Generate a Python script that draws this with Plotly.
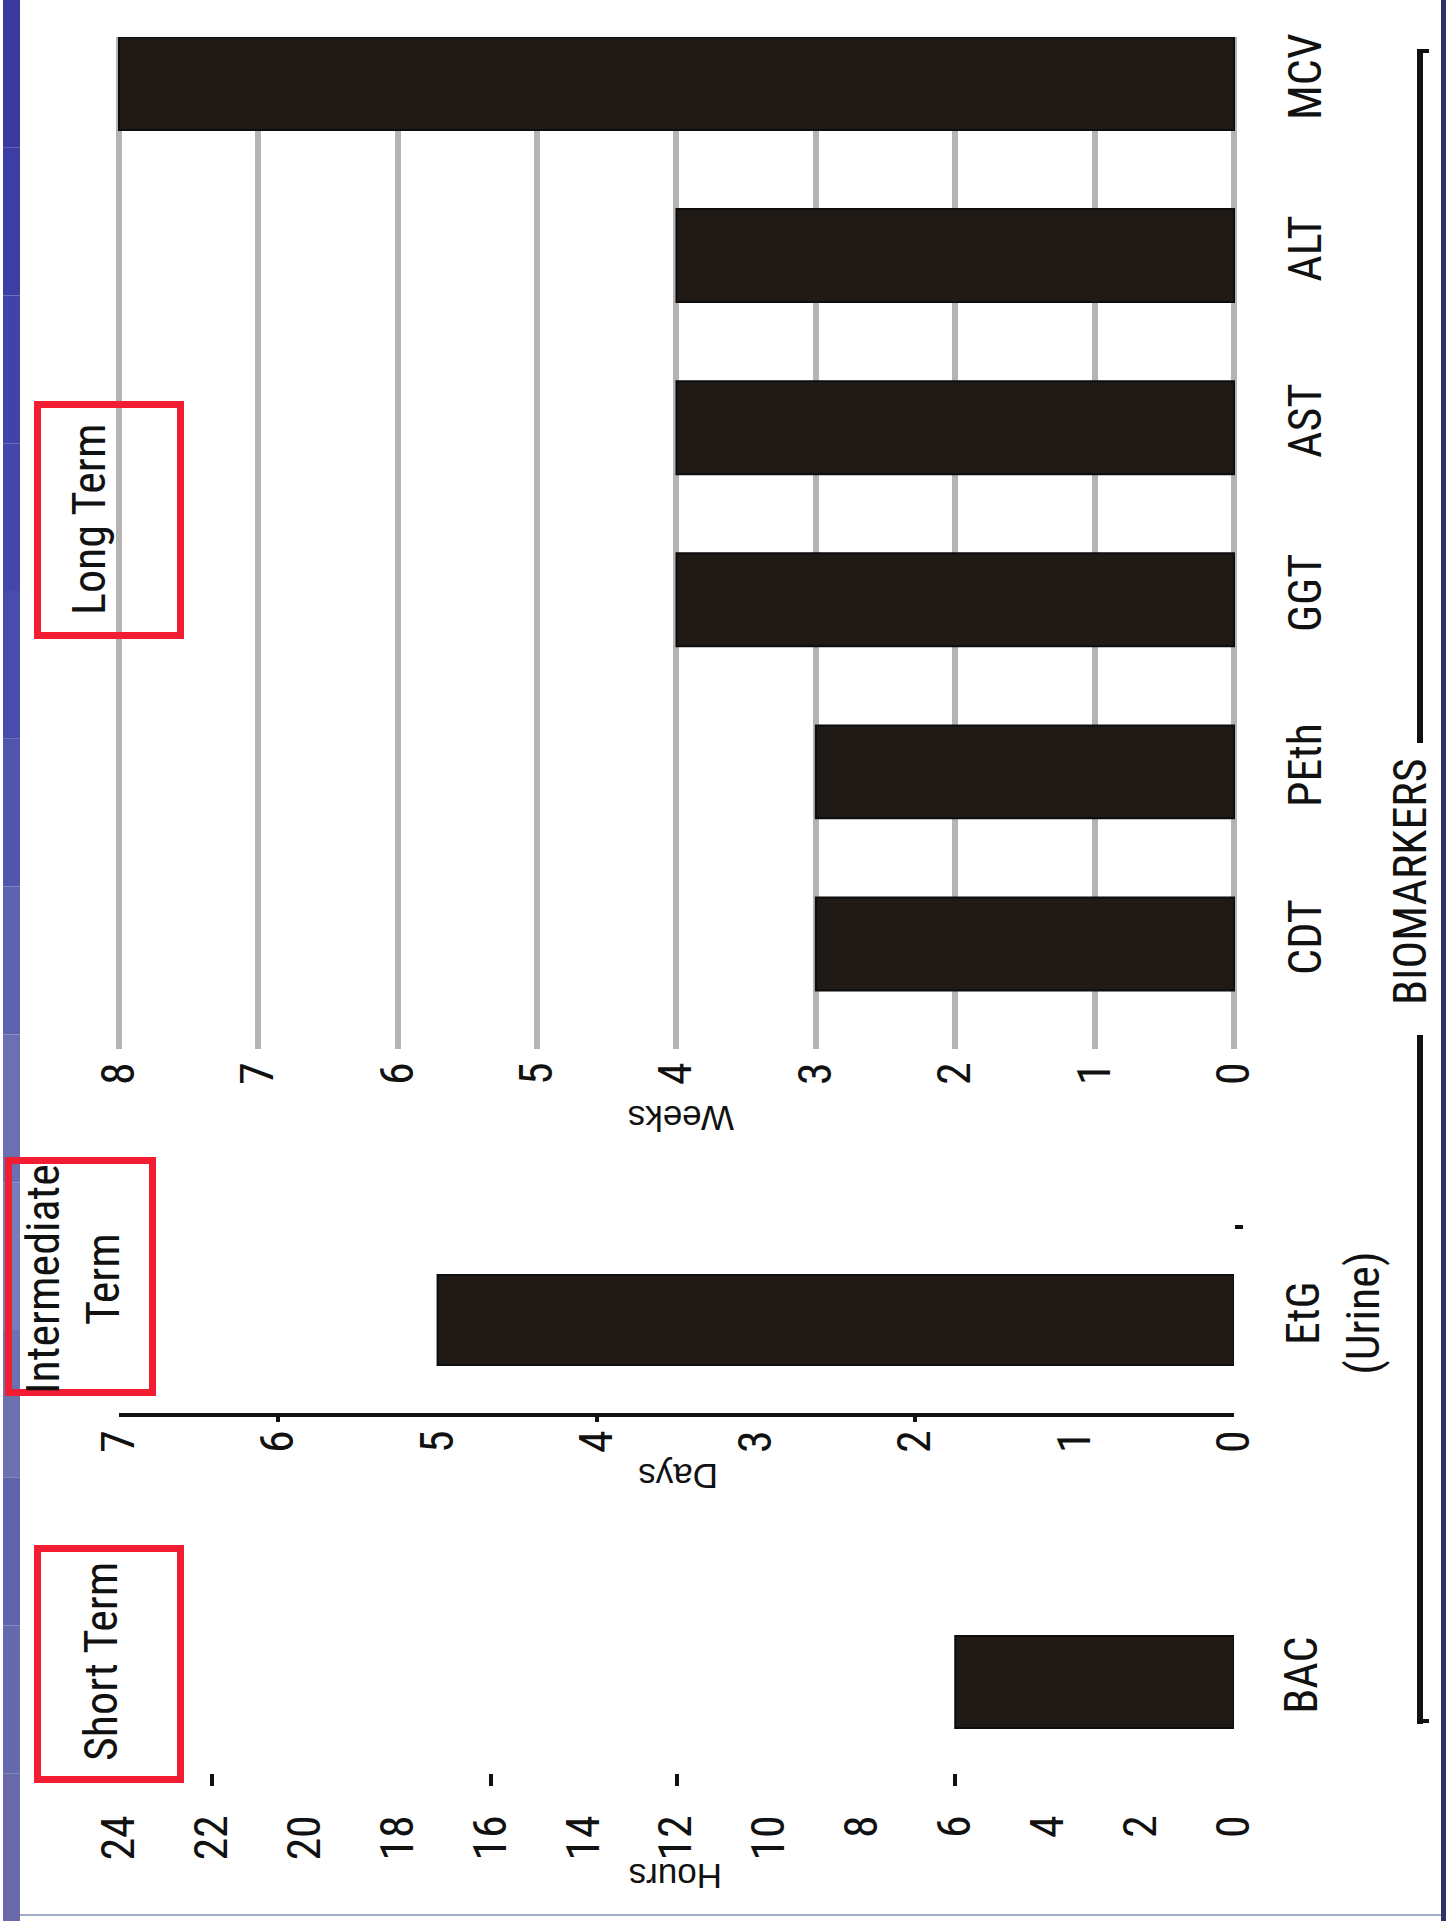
import plotly.graph_objects as go

W, H = 1446, 1921

# ---------------- data ----------------
long_cats = ["CDT", "PEth", "GGT", "AST", "ALT", "MCV"]
long_weeks = [3, 3, 4, 4, 4, 8]
mid_cats = ["EtG<br>(Urine)"]
mid_days = [5]
short_cats = ["BAC"]
short_hours = [6]

weeks_ticks = [0, 1, 2, 3, 4, 5, 6, 7, 8]
days_ticks = [0, 1, 2, 3, 4, 5, 6, 7]
hours_ticks = [0, 2, 4, 6, 8, 10, 12, 14, 16, 18, 20, 22, 24]
days_marks = [6, 4, 2]
hours_marks = [22, 16, 12, 6]

panel_titles = ["Long Term", "Intermediate<br>Term", "Short Term"]
axis_titles = ["Weeks", "Days", "Hours"]
group_title = "BIOMARKERS"

# ---------------- styles ----------------
NARROW = "Liberation Sans Narrow, Arial Narrow, Roboto Condensed, Liberation Sans, sans-serif"
REG = "Liberation Sans, Arial, sans-serif"
INK = "#111111"
BAR = "#201a17"
RED = "#f31d33"


def fx(px):
    return px / W


def fy(py):
    return 1 - py / H


XDOM = [fx(119), fx(1234)]
# long-term axis padded a little so the 0 and 8 gridlines are drawn
PAD = 0.03
UNIT = (1234 - 119) / 8.0
XDOM_W = [fx(119 - PAD * UNIT), fx(1234 + PAD * UNIT)]
tickfont = dict(family=NARROW, size=46, color=INK)

fig = go.Figure()

fig.add_trace(go.Bar(orientation="h", x=long_weeks, y=long_cats, xaxis="x", yaxis="y",
                     marker=dict(color=BAR, line=dict(color="#0d0d0d", width=2)),
                     width=0.54, showlegend=False, hoverinfo="skip"))
fig.add_trace(go.Bar(orientation="h", x=mid_days, y=mid_cats, xaxis="x2", yaxis="y2",
                     marker=dict(color=BAR, line=dict(color="#0d0d0d", width=2)),
                     width=0.484, showlegend=False, hoverinfo="skip"))
fig.add_trace(go.Bar(orientation="h", x=short_hours, y=short_cats, xaxis="x3", yaxis="y3",
                     marker=dict(color=BAR, line=dict(color="#0d0d0d", width=2)),
                     width=0.505, showlegend=False, hoverinfo="skip"))
# carriers for tick-mark-only overlay axes
fig.add_trace(go.Scatter(x=[], y=[], xaxis="x4", yaxis="y3", showlegend=False))
fig.add_trace(go.Scatter(x=[], y=[], xaxis="x5", yaxis="y2", showlegend=False))

common_x = dict(zeroline=False, tickangle=-90, tickfont=tickfont,
                tickmode="array", fixedrange=True, automargin=False)
common_y = dict(type="category", side="right", tickangle=-90, tickfont=tickfont,
                showgrid=False, zeroline=False, showline=False, automargin=False)

fig.update_layout(
    width=W, height=H,
    margin=dict(l=0, r=0, t=0, b=0),
    paper_bgcolor="white", plot_bgcolor="rgba(0,0,0,0)",
    xaxis=dict(**common_x, domain=XDOM_W, range=[8 + PAD, -PAD], anchor="y",
               tickvals=weeks_ticks, showgrid=True, gridcolor="#b4b4b4", gridwidth=6,
               showline=False, ticks="", ticklabelstandoff=3),
    yaxis=dict(**common_y, domain=[fy(1049), fy(37)], range=[-0.61, 5.27], anchor="x",
               ticks="", ticklabelstandoff=36),
    xaxis2=dict(**common_x, domain=XDOM, range=[7, 0], anchor="y2", tickvals=days_ticks,
                showgrid=False, showline=True, linewidth=4, linecolor=INK,
                ticks="", ticklabelstandoff=-5),
    yaxis2=dict(**common_y, domain=[fy(1413), fy(1227)], range=[-0.5, 0.5], anchor="x2",
                ticks="outside", tickson="boundaries", ticklen=8, tickwidth=4,
                tickcolor=INK, ticklabelstandoff=38),
    xaxis3=dict(**common_x, domain=XDOM, range=[24, 0], anchor="y3", tickvals=hours_ticks,
                showgrid=False, showline=False, ticks="", ticklabelstandoff=32),
    yaxis3=dict(**common_y, domain=[fy(1773), fy(1591)], range=[-0.5, 0.5], anchor="x3",
                ticks="", ticklabelstandoff=36),
    xaxis4=dict(domain=XDOM, overlaying="x3", anchor="y3", range=[24, 0], tickmode="array",
                tickvals=hours_marks, showticklabels=False, ticks="outside", ticklen=12,
                tickwidth=4, tickcolor=INK, showgrid=False, zeroline=False, showline=False),
    xaxis5=dict(domain=XDOM, overlaying="x2", anchor="y2", range=[7, 0], tickmode="array",
                tickvals=days_marks, showticklabels=False, ticks="outside", ticklen=8,
                tickwidth=4, tickcolor=INK, showgrid=False, zeroline=False, showline=False),
)

shapes = []
# left blue band (vertical gradient built from stacked strips)
band_colors = ["#3a3a9e", "#3d3ea3", "#4143a8", "#4447a9", "#484caa", "#5156ac",
               "#5d62ae", "#6b70b2", "#777db8", "#6c71b0", "#5f64ac", "#6669ad", "#6a6aa8"]
n = len(band_colors)
for i, c in enumerate(band_colors):
    shapes.append(dict(type="rect", xref="paper", yref="paper",
                       x0=fx(3), x1=fx(20), y0=fy(H * (i + 1) / n), y1=fy(H * i / n),
                       line=dict(width=0), fillcolor=c, layer="below"))
# right dark border & bottom light border
shapes.append(dict(type="rect", xref="paper", yref="paper", x0=fx(1441), x1=fx(1446),
                   y0=0, y1=1, line=dict(width=0), fillcolor="#2c3462"))
shapes.append(dict(type="line", xref="paper", yref="paper", x0=fx(20), x1=fx(1441),
                   y0=fy(1915), y1=fy(1915), line=dict(color="#9fadc6", width=2)))
# red boxes
for (x0, x1, y0, y1) in [(37.5, 180.5, 404.5, 635.5), (8.5, 152.5, 1160.5, 1392.5),
                         (37.5, 180.5, 1548.5, 1779.5)]:
    shapes.append(dict(type="rect", xref="paper", yref="paper",
                       x0=fx(x0), x1=fx(x1), y0=fy(y1), y1=fy(y0),
                       line=dict(color=RED, width=7), fillcolor="rgba(0,0,0,0)"))
# bracket on the right
shapes.append(dict(type="line", xref="paper", yref="paper", x0=fx(1420), x1=fx(1420),
                   y0=fy(743), y1=fy(49), line=dict(color=INK, width=6)))
shapes.append(dict(type="line", xref="paper", yref="paper", x0=fx(1420), x1=fx(1420),
                   y0=fy(1724), y1=fy(1035), line=dict(color=INK, width=6)))
shapes.append(dict(type="line", xref="paper", yref="paper", x0=fx(1420), x1=fx(1429),
                   y0=fy(51), y1=fy(51), line=dict(color=INK, width=4)))
shapes.append(dict(type="line", xref="paper", yref="paper", x0=fx(1420), x1=fx(1429),
                   y0=fy(1721), y1=fy(1721), line=dict(color=INK, width=4)))
fig.update_layout(shapes=shapes)

ann = []
# panel titles in red boxes
for txt, (cx, cy) in zip(panel_titles, [(89, 519), (73, 1279), (101, 1661)]):
    ann.append(dict(text=txt, xref="paper", yref="paper", x=fx(cx), y=fy(cy),
                    xanchor="center", yanchor="middle", showarrow=False, textangle=-90,
                    font=dict(family=NARROW, size=46, color=INK)))
# axis titles (upside-down)
for txt, (cx, cy) in zip(axis_titles, [(681, 1119), (678, 1477), (676, 1877)]):
    ann.append(dict(text=txt, xref="paper", yref="paper", x=fx(cx), y=fy(cy),
                    xanchor="center", yanchor="middle", showarrow=False, textangle=180,
                    font=dict(family=REG, size=35, color=INK)))
ann.append(dict(text=group_title, xref="paper", yref="paper", x=fx(1410), y=fy(882),
                xanchor="center", yanchor="middle", showarrow=False, textangle=-90,
                font=dict(family=NARROW, size=46, color=INK)))
fig.update_layout(annotations=ann)

fig.write_html("out.html", config={"displayModeBar": False},
               post_script="document.body.style.margin='0';")
